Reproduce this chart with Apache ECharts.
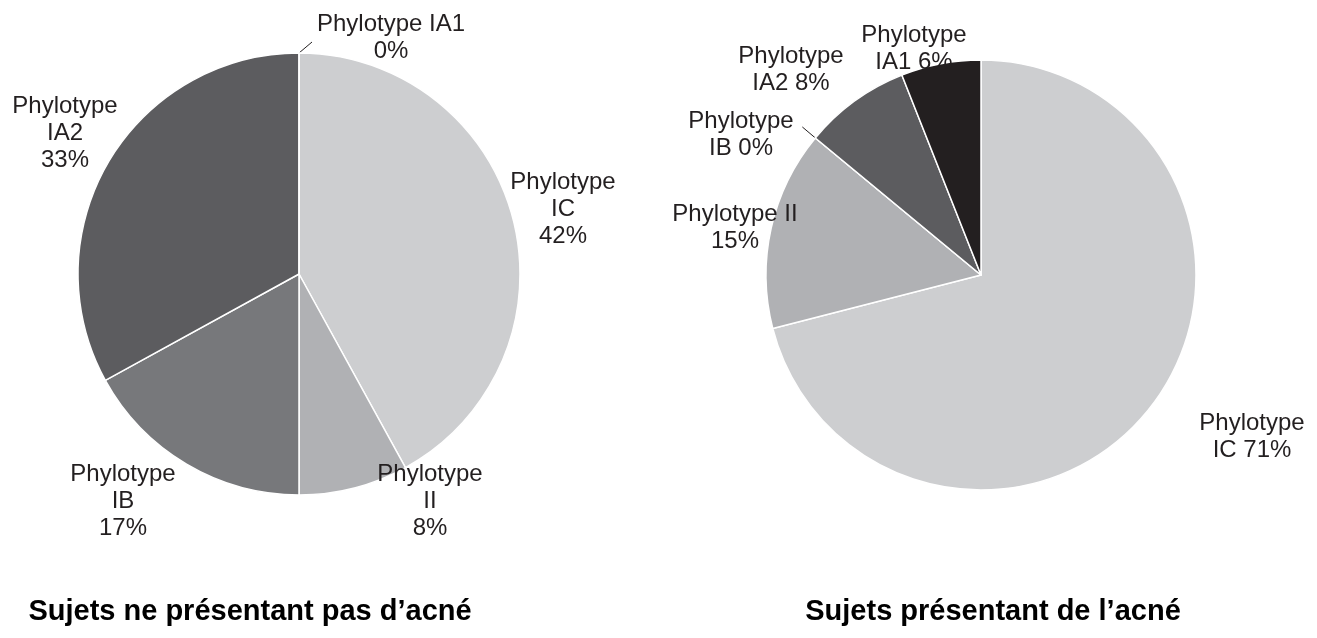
<!DOCTYPE html>
<html>
<head>
<meta charset="utf-8">
<script src="https://cdn.jsdelivr.net/npm/echarts@6/dist/echarts.min.js"></script>
<style>
  html, body { margin: 0; padding: 0; background: #fff; }
  #chart { width: 1317px; height: 638px; }
</style>
</head>
<body>
<div id="chart"></div>
<script>
// phylotypes in clockwise order from 12 o'clock
var phylotypes = ["IC", "II", "IB", "IA2", "IA1"];
var sansAcne = [42, 8, 17, 33, 0];
var avecAcne = [71, 15, 0, 8, 6];
var titres = ["Sujets ne présentant pas d\u2019acné", "Sujets présentant de l\u2019acné"];

var couleurs = {
  IC: "#cdced0",
  II: "#b0b1b4",
  IB: "#77787b",
  IA2: "#5c5c5f",
  IA1: "#231f20"
};

// where each label block sits (centre of the text block)
var labelPosGauche = {
  IC: [563, 209], II: [430, 501], IB: [123, 501], IA2: [65, 133], IA1: [391, 38]
};
var labelPosDroite = {
  IC: [1252, 437], II: [735, 228], IB: [741, 135], IA2: [791, 70], IA1: [914, 49]
};

var police = "'Liberation Sans', Arial, Helvetica, sans-serif";

function texteGauche(nom, val) {
  if (nom === "IA1") return "Phylotype " + nom + "\n" + val + "%";
  return "Phylotype\n" + nom + "\n" + val + "%";
}
function texteDroite(nom, val) {
  if (nom === "II") return "Phylotype " + nom + "\n" + val + "%";
  return "Phylotype\n" + nom + " " + val + "%";
}

function buildData(values) {
  return phylotypes.map(function (nom, i) {
    return {
      name: nom,
      value: values[i],
      itemStyle: { color: couleurs[nom] },
      // only the empty slices get a leader line
      labelLine: { show: values[i] === 0 }
    };
  });
}

function makeLayout(pos) {
  return function (params) {
    var p = pos[phylotypes[params.dataIndex]];
    var res = {
      x: p[0],
      y: p[1],
      align: "center",
      verticalAlign: "middle"
    };
    var pts = params.labelLinePoints;
    if (pts && pts.length && pts[0]) {
      var a = pts[0];
      var dx = p[0] > a[0] ? 1 : -1;
      var end = [a[0] + dx * 13, a[1] - 11];
      res.labelLinePoints = [a, end, end];
    }
    return res;
  };
}

var chart = echarts.init(document.getElementById("chart"));

var labelCommun = {
  show: true,
  position: "outside",
  color: "#231f20",
  fontFamily: police,
  fontSize: 24,
  lineHeight: 27
};

var option = {
  backgroundColor: "#ffffff",
  animation: false,
  title: [
    {
      text: titres[0],
      left: 245,
      top: 592,
      textAlign: "center",
      textStyle: { fontFamily: police, fontWeight: "bold", fontSize: 29, color: "#000" }
    },
    {
      text: titres[1],
      left: 988,
      top: 592,
      textAlign: "center",
      textStyle: { fontFamily: police, fontWeight: "bold", fontSize: 29, color: "#000" }
    }
  ],
  series: [
    {
      type: "pie",
      center: [299, 274],
      radius: 221,
      startAngle: 90,
      clockwise: true,
      avoidLabelOverlap: false,
      itemStyle: { borderColor: "#ffffff", borderWidth: 1.5 },
      label: Object.assign({}, labelCommun, {
        formatter: function (p) { return texteGauche(p.name, p.value); }
      }),
      labelLine: { lineStyle: { color: "#231f20", width: 1 } },
      labelLayout: makeLayout(labelPosGauche),
      emphasis: { disabled: true },
      data: buildData(sansAcne)
    },
    {
      type: "pie",
      center: [981, 275],
      radius: 215,
      startAngle: 90,
      clockwise: true,
      avoidLabelOverlap: false,
      itemStyle: { borderColor: "#ffffff", borderWidth: 1.5 },
      label: Object.assign({}, labelCommun, {
        formatter: function (p) { return texteDroite(p.name, p.value); }
      }),
      labelLine: { lineStyle: { color: "#231f20", width: 1 } },
      labelLayout: makeLayout(labelPosDroite),
      emphasis: { disabled: true },
      data: buildData(avecAcne)
    }
  ]
};

chart.setOption(option);
</script>
</body>
</html>
